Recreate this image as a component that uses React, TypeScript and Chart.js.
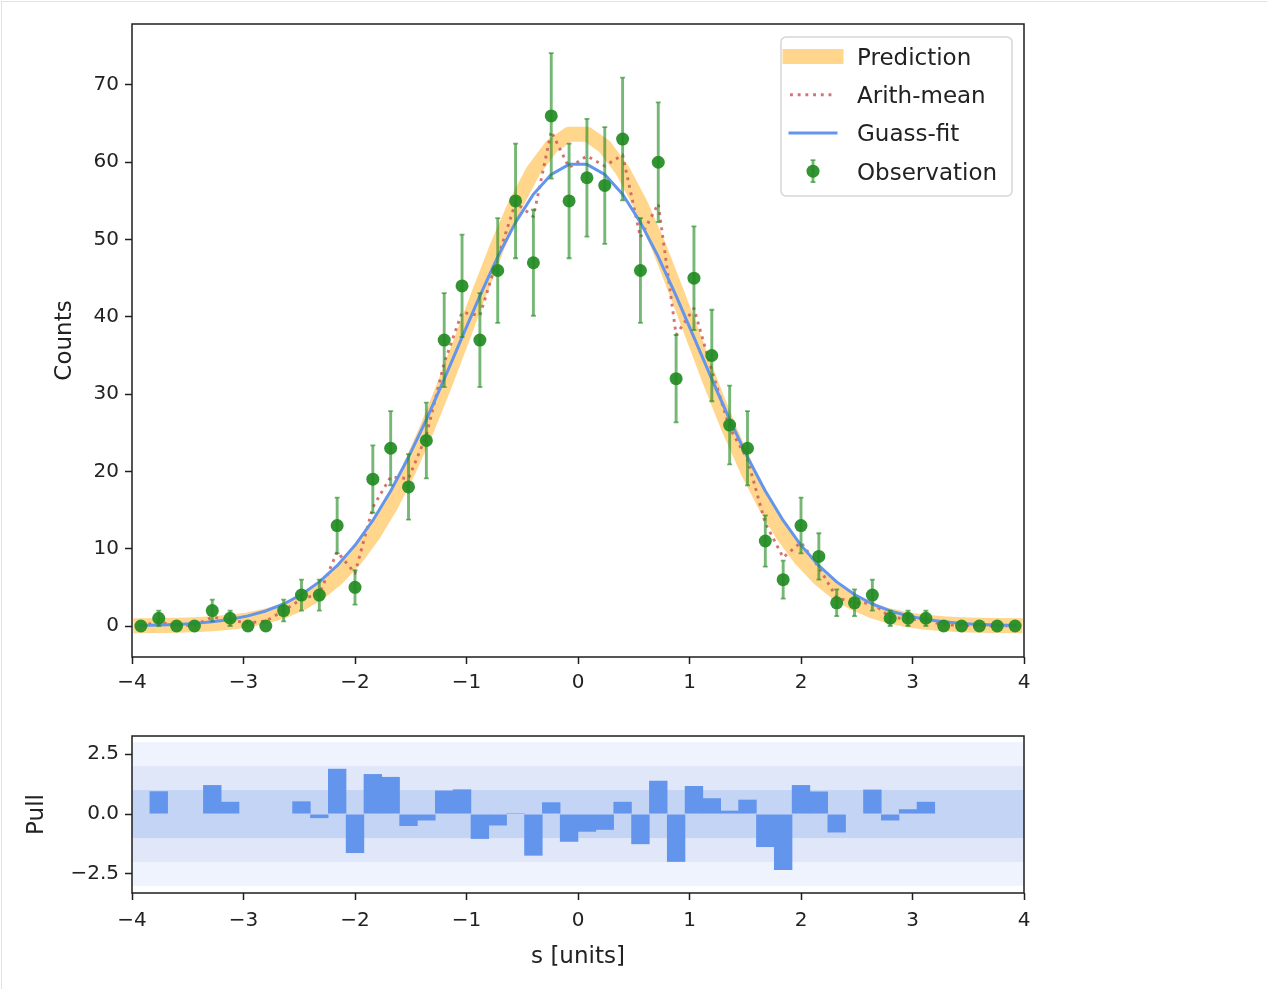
import React, { useEffect, useRef } from 'react';
import { Chart, registerables } from 'chart.js';

Chart.register(...registerables);

// ---------------- data ----------------
const binCenters = [
  -3.92, -3.76, -3.6, -3.44, -3.28, -3.12, -2.96, -2.8, -2.64, -2.48,
  -2.32, -2.16, -2.0, -1.84, -1.68, -1.52, -1.36, -1.2, -1.04, -0.88,
  -0.72, -0.56, -0.4, -0.24, -0.08, 0.08, 0.24, 0.4, 0.56, 0.72,
  0.88, 1.04, 1.2, 1.36, 1.52, 1.68, 1.84, 2.0, 2.16, 2.32,
  2.48, 2.64, 2.8, 2.96, 3.12, 3.28, 3.44, 3.6, 3.76, 3.92,
];
const observed = [
  0, 1, 0, 0, 2, 1, 0, 0, 2, 4,
  4, 13, 5, 19, 23, 18, 24, 37, 44, 37,
  46, 55, 47, 66, 55, 58, 57, 63, 46, 60,
  32, 45, 35, 26, 23, 11, 6, 13, 9, 3,
  3, 4, 1, 1, 1, 0, 0, 0, 0, 0,
];
const obsErrors = [
  0, 1, 0, 0, 1.41, 1, 0, 0, 1.41, 2,
  2, 3.61, 2.24, 4.36, 4.8, 4.24, 4.9, 6.08, 6.63, 6.08,
  6.78, 7.42, 6.86, 8.12, 7.42, 7.62, 7.55, 7.94, 6.78, 7.75,
  5.66, 6.71, 5.92, 5.1, 4.8, 3.32, 2.45, 3.61, 3, 1.73,
  1.73, 2, 1, 1, 1, 0, 0, 0, 0, 0,
];
const prediction = [
  0.03, 0.05, 0.1, 0.17, 0.29, 0.49, 0.8, 1.27, 1.96, 2.95,
  4.33, 6.19, 8.64, 11.74, 15.57, 20.11, 25.31, 31.07, 37.17, 43.34,
  49.26, 54.57, 58.92, 62.02, 63.63, 63.63, 62.02, 58.92, 54.57, 49.26,
  43.34, 37.17, 31.07, 25.31, 20.11, 15.57, 11.74, 8.64, 6.19, 4.33,
  2.95, 1.96, 1.27, 0.8, 0.49, 0.29, 0.17, 0.1, 0.05, 0.03,
];
const arithMean = [
  0.02, 0.53, 0.05, 0.09, 1.15, 0.75, 0.4, 0.64, 1.98, 3.48,
  4.17, 9.6, 6.82, 15.37, 19.29, 19.06, 24.66, 34.04, 40.59, 40.17,
  47.63, 54.79, 52.96, 64.01, 59.32, 60.82, 59.51, 60.96, 50.29, 54.63,
  37.67, 41.09, 33.04, 25.66, 21.56, 13.29, 8.87, 10.82, 7.6, 3.67,
  2.98, 2.98, 1.14, 0.9, 0.75, 0.15, 0.09, 0.05, 0.03, 0.02,
];
const gaussFit = [
  0.07, 0.12, 0.21, 0.34, 0.55, 0.85, 1.31, 1.95, 2.85, 4.08,
  5.71, 7.81, 10.44, 13.66, 17.46, 21.84, 26.7, 31.94, 37.35, 42.71,
  47.77, 52.23, 55.86, 58.41, 59.73, 59.73, 58.41, 55.86, 52.23, 47.77,
  42.71, 37.35, 31.94, 26.7, 21.84, 17.46, 13.66, 10.44, 7.81, 5.71,
  4.08, 2.85, 1.95, 1.31, 0.85, 0.55, 0.34, 0.21, 0.12, 0.07,
];
const pulls = [
  null, 0.95, null, null, 1.21, 0.51, null, null, 0.02, 0.53,
  -0.17, 1.89, -1.63, 1.67, 1.55, -0.5, -0.27, 0.98, 1.03, -1.04,
  -0.48, 0.04, -1.74, 0.49, -1.16, -0.74, -0.66, 0.51, -1.26, 1.39,
  -2.0, 1.17, 0.66, 0.14, 0.6, -1.38, -2.34, 1.21, 0.94, -0.77,
  0.02, 1.02, -0.27, 0.2, 0.51, null, null, null, null, null,
];
const xTicks = [-4, -3, -2, -1, 0, 1, 2, 3, 4];
const countTicks = [0, 10, 20, 30, 40, 50, 60, 70];
const pullTicks = [-2.5, 0, 2.5];
const pullBands = [3, 2, 1];
const legendLabels = ['Prediction', 'Arith-mean', 'Guass-fit', 'Observation'];

// ---------------- styles ----------------
const FONT = 'DejaVu Sans';
const TEXT = '#222222';
const FRAME = '#1e1e1e';
const GREEN = 'rgba(34,139,34,0.92)';
const GREEN_ERR = 'rgba(34,139,34,0.62)';
const ORANGE = 'rgba(255,165,0,0.45)';
const BLUE = '#6495ED';
const RED = 'rgba(205,92,92,0.85)';
const BAND_COLORS = ['#eef3fd', '#dfe7f9', '#c3d4f5'];
const TICK_SIZE = 20;

const fmt = (v: number, digits = 0) => {
  const s = Math.abs(v).toFixed(digits);
  return v < -1e-9 ? '\u2212' + s : s;
};

const pts = (ys: (number | null)[]) => binCenters.map((x, i) => ({ x, y: ys[i] }));

const framePlugin = {
  id: 'frame',
  afterDatasetsDraw(chart: any) {
    const { ctx, chartArea: a } = chart;
    ctx.save();
    ctx.strokeStyle = FRAME;
    ctx.lineWidth = 1.5;
    ctx.strokeRect(a.left, a.top, a.right - a.left, a.bottom - a.top);
    ctx.restore();
  },
};

function drawErrorBar(ctx: CanvasRenderingContext2D, px: number, top: number, bot: number) {
  ctx.beginPath();
  ctx.moveTo(px, top);
  ctx.lineTo(px, bot);
  ctx.lineWidth = 2.9;
  ctx.stroke();
  ctx.beginPath();
  ctx.moveTo(px - 2.5, top);
  ctx.lineTo(px + 2.5, top);
  ctx.moveTo(px - 2.5, bot);
  ctx.lineTo(px + 2.5, bot);
  ctx.lineWidth = 1.8;
  ctx.stroke();
}

const errorBarPlugin = {
  id: 'errorBars',
  beforeDatasetDraw(chart: any, args: any) {
    if (args.index !== 0) return;
    const { ctx, scales } = chart;
    const x = scales.x;
    const y = scales.y;
    ctx.save();
    ctx.strokeStyle = GREEN_ERR;
    ctx.lineCap = 'butt';
    binCenters.forEach((c, i) => {
      const e = obsErrors[i];
      if (!e) return;
      const px = x.getPixelForValue(c);
      drawErrorBar(ctx, px, y.getPixelForValue(observed[i] + e), y.getPixelForValue(observed[i] - e));
    });
    ctx.restore();
  },
};

const legendPlugin = {
  id: 'customLegend',
  afterDraw(chart: any) {
    const ctx: CanvasRenderingContext2D = chart.ctx;
    const bx = 781, by = 37, bw = 231, bh = 159, r = 5;
    ctx.save();
    ctx.beginPath();
    ctx.moveTo(bx + r, by);
    ctx.lineTo(bx + bw - r, by);
    ctx.arcTo(bx + bw, by, bx + bw, by + r, r);
    ctx.lineTo(bx + bw, by + bh - r);
    ctx.arcTo(bx + bw, by + bh, bx + bw - r, by + bh, r);
    ctx.lineTo(bx + r, by + bh);
    ctx.arcTo(bx, by + bh, bx, by + bh - r, r);
    ctx.lineTo(bx, by + r);
    ctx.arcTo(bx, by, bx + r, by, r);
    ctx.closePath();
    ctx.fillStyle = 'rgba(255,255,255,0.85)';
    ctx.fill();
    ctx.strokeStyle = '#d6d6d6';
    ctx.lineWidth = 1.5;
    ctx.stroke();

    const hx0 = 790, hx1 = 836;
    const baselines = legendLabels.map((_, i) => 65 + 38.2 * i);
    const mids = baselines.map((b) => b - 8.4);

    // Prediction
    ctx.beginPath();
    ctx.moveTo(hx0, mids[0]);
    ctx.lineTo(hx1, mids[0]);
    ctx.strokeStyle = ORANGE;
    ctx.lineWidth = 15;
    ctx.lineCap = 'square';
    ctx.stroke();
    // Arith-mean
    ctx.beginPath();
    ctx.setLineDash([2.9, 4.8]);
    ctx.moveTo(hx0, mids[1]);
    ctx.lineTo(hx1, mids[1]);
    ctx.strokeStyle = RED;
    ctx.lineWidth = 2.9;
    ctx.lineCap = 'butt';
    ctx.stroke();
    ctx.setLineDash([]);
    // Guass-fit
    ctx.beginPath();
    ctx.moveTo(hx0, mids[2]);
    ctx.lineTo(hx1, mids[2]);
    ctx.strokeStyle = BLUE;
    ctx.lineWidth = 3;
    ctx.lineCap = 'square';
    ctx.stroke();
    // Observation
    const ox = (hx0 + hx1) / 2;
    ctx.strokeStyle = GREEN_ERR;
    ctx.lineCap = 'butt';
    drawErrorBar(ctx, ox, mids[3] - 11, mids[3] + 11);
    ctx.beginPath();
    ctx.arc(ox, mids[3], 6.5, 0, Math.PI * 2);
    ctx.fillStyle = GREEN;
    ctx.fill();

    ctx.fillStyle = TEXT;
    ctx.font = `23px "${FONT}"`;
    ctx.textBaseline = 'alphabetic';
    ctx.textAlign = 'left';
    legendLabels.forEach((t, i) => ctx.fillText(t, 857, baselines[i]));
    ctx.restore();
  },
};

const bandsPlugin = {
  id: 'bands',
  beforeDatasetsDraw(chart: any) {
    const { ctx, chartArea: a, scales } = chart;
    const y = scales.y;
    ctx.save();
    pullBands.forEach((b, i) => {
      const t = Math.max(a.top, y.getPixelForValue(b));
      const btm = Math.min(a.bottom, y.getPixelForValue(-b));
      ctx.fillStyle = BAND_COLORS[i];
      ctx.fillRect(a.left, t, a.right - a.left, btm - t);
    });
    ctx.restore();
  },
};

const tickGrid = {
  drawOnChartArea: false,
  drawTicks: true,
  tickLength: 7,
  tickColor: FRAME,
  tickWidth: 1.5,
};

export default function App() {
  const mainRef = useRef<HTMLCanvasElement>(null);
  const pullRef = useRef<HTMLCanvasElement>(null);

  useEffect(() => {
    Chart.defaults.font.family = FONT;

    const main = new Chart(mainRef.current as HTMLCanvasElement, {
      type: 'line',
      data: {
        datasets: [
          {
            label: 'Observation',
            data: pts(observed),
            showLine: false,
            pointRadius: 6.5,
            pointHoverRadius: 6.5,
            pointBackgroundColor: GREEN,
            pointBorderColor: 'rgba(0,0,0,0)',
            pointBorderWidth: 0,
            order: 0,
          } as any,
          {
            label: 'Guass-fit',
            data: pts(gaussFit),
            borderColor: BLUE,
            borderWidth: 3,
            pointRadius: 0,
            borderCapStyle: 'square',
            borderJoinStyle: 'round',
            tension: 0,
            clip: 0,
            order: 1,
          } as any,
          {
            label: 'Arith-mean',
            data: pts(arithMean),
            borderColor: RED,
            borderWidth: 2.9,
            borderDash: [2.9, 4.8],
            pointRadius: 0,
            borderCapStyle: 'butt',
            borderJoinStyle: 'round',
            tension: 0,
            clip: 0,
            order: 2,
          } as any,
          {
            label: 'Prediction',
            data: pts(prediction),
            borderColor: ORANGE,
            borderWidth: 15,
            pointRadius: 0,
            borderCapStyle: 'square',
            borderJoinStyle: 'round',
            tension: 0,
            clip: 0,
            order: 3,
          } as any,
        ],
      },
      options: {
        responsive: false,
        animation: false,
        devicePixelRatio: 1,
        events: [],
        layout: { padding: { left: 0, top: 24, right: 243, bottom: 0 } },
        plugins: { legend: { display: false }, tooltip: { enabled: false } },
        scales: {
          x: {
            type: 'linear',
            min: -4,
            max: 4,
            afterBuildTicks: (s: any) => { s.ticks = xTicks.map((v) => ({ value: v })); },
            afterFit: (s: any) => { s.height = 43; s.paddingLeft = 0; s.paddingRight = 0; },
            ticks: { callback: (v: any) => fmt(Number(v)), font: { size: TICK_SIZE }, color: TEXT, padding: 7, maxRotation: 0, autoSkip: false },
            grid: tickGrid,
            border: { display: false },
          },
          y: {
            type: 'linear',
            min: -4.01,
            max: 77.89,
            afterBuildTicks: (s: any) => { s.ticks = countTicks.map((v) => ({ value: v })); },
            afterFit: (s: any) => { s.width = 132; s.paddingTop = 0; s.paddingBottom = 0; },
            ticks: { callback: (v: any) => fmt(Number(v)), font: { size: TICK_SIZE }, color: TEXT, padding: 6, autoSkip: false },
            grid: tickGrid,
            border: { display: false },
            title: { display: true, text: 'Counts', font: { size: 23 }, color: TEXT, padding: { top: 51, bottom: 0 } },
          },
        },
      } as any,
      plugins: [errorBarPlugin, framePlugin, legendPlugin],
    });

    const pull = new Chart(pullRef.current as HTMLCanvasElement, {
      type: 'bar',
      data: {
        datasets: [
          {
            label: 'Pull',
            data: pts(pulls) as any,
            backgroundColor: BLUE,
            borderWidth: 0,
            barPercentage: 1.03,
            categoryPercentage: 1,
          },
        ],
      },
      options: {
        responsive: false,
        animation: false,
        devicePixelRatio: 1,
        events: [],
        layout: { padding: { left: 0, top: 36, right: 243, bottom: 0 } },
        plugins: { legend: { display: false }, tooltip: { enabled: false } },
        scales: {
          x: {
            type: 'linear',
            min: -4,
            max: 4,
            offset: false,
            afterBuildTicks: (s: any) => { s.ticks = xTicks.map((v) => ({ value: v })); },
            afterFit: (s: any) => { s.height = 96; s.paddingLeft = 0; s.paddingRight = 0; },
            ticks: { callback: (v: any) => fmt(Number(v)), font: { size: TICK_SIZE }, color: TEXT, padding: 9, maxRotation: 0, autoSkip: false },
            grid: { ...tickGrid, offset: false },
            border: { display: false },
            title: { display: true, text: 's [units]', font: { size: 23 }, color: TEXT, padding: { top: 0, bottom: 18 } },
          },
          y: {
            type: 'linear',
            min: -3.3,
            max: 3.26,
            afterBuildTicks: (s: any) => { s.ticks = pullTicks.map((v) => ({ value: v })); },
            afterFit: (s: any) => { s.width = 132; s.paddingTop = 0; s.paddingBottom = 0; },
            ticks: { callback: (v: any) => fmt(Number(v), 1), font: { size: TICK_SIZE }, color: TEXT, padding: 6, autoSkip: false },
            grid: tickGrid,
            border: { display: false },
            title: { display: true, text: 'Pull', font: { size: 23 }, color: TEXT, padding: { top: 23, bottom: 0 } },
          },
        },
      } as any,
      plugins: [bandsPlugin, framePlugin],
    });

    return () => {
      main.destroy();
      pull.destroy();
    };
  }, []);

  return (
    <div style={{ position: 'absolute', left: 0, top: 0, width: 1267, height: 989, background: '#ffffff' }}>
      <div
        style={{
          position: 'absolute', left: 1, top: 1, width: 1266, height: 988,
          borderTop: '1px solid #e2e2e2', borderLeft: '1px solid #e2e2e2', boxSizing: 'border-box',
        }}
      />
      <canvas ref={mainRef} width={1267} height={700} style={{ position: 'absolute', left: 0, top: 0, width: 1267, height: 700 }} />
      <canvas ref={pullRef} width={1267} height={289} style={{ position: 'absolute', left: 0, top: 700, width: 1267, height: 289 }} />
    </div>
  );
}
